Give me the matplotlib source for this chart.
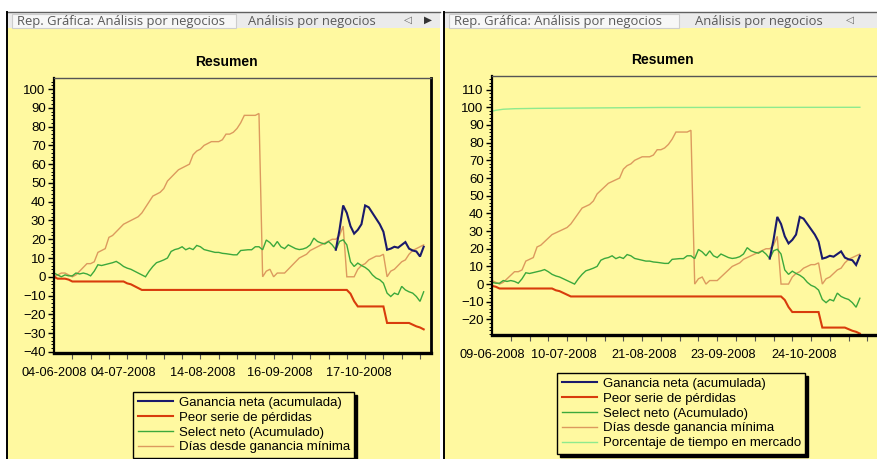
import numpy as np
import matplotlib
matplotlib.use('Agg')
import matplotlib.pyplot as plt
from matplotlib.patches import Rectangle
from matplotlib.lines import Line2D
from matplotlib.ticker import MultipleLocator

plt.rcParams['font.family'] = ['Liberation Sans', 'DejaVu Sans']

# series, one value per trade
dias = [0, 1, 2, 2, 1, 0, 1, 3, 5, 7,
        7, 8, 13, 14, 15, 21, 22, 24, 26, 28,
        29, 30, 31, 32, 34, 37, 40, 43, 44, 45,
        47, 51, 53, 55, 57, 58, 59, 60, 65, 67,
        68, 70, 71, 72, 72, 72, 73, 76, 76, 77,
        79, 82, 86, 86, 86, 86, 87, 0, 3, 4,
        0, 2, 2, 2, 4, 6, 8, 10, 11, 12,
        14, 15, 16, 17, 18, 19, 20, 20, 22, 27,
        0, 0, 0, 4, 6, 7, 9, 10, 11, 11,
        12, 0, 3, 4, 6, 8, 9, 12, 14, 15,
        16, 17]

peor = [0, -1, -1, -1, -1.5, -2.5, -2.5, -2.5, -2.5, -2.5,
        -2.5, -2.5, -2.5, -2.5, -2.5, -2.5, -2.5, -2.5, -2.5, -2.5,
        -3.5, -4, -5, -6, -7, -7, -7, -7, -7, -7,
        -7, -7, -7, -7, -7, -7, -7, -7, -7, -7,
        -7, -7, -7, -7, -7, -7, -7, -7, -7, -7,
        -7, -7, -7, -7, -7, -7, -7, -7, -7, -7,
        -7, -7, -7, -7, -7, -7, -7, -7, -7, -7,
        -7, -7, -7, -7, -7, -7, -7, -7, -7, -7,
        -7, -9, -13, -15.8, -15.8, -15.8, -15.8, -15.8, -15.8, -15.8,
        -15.8, -24.6, -24.6, -24.6, -24.6, -24.6, -24.6, -24.6, -25.5, -26.4,
        -27, -28]

select = [2, 1, 0, 1, 0.5, 0.5, 2, 1.5, 2, 1.5,
          0.5, 3, 6.4, 6, 6.5, 7, 7.5, 8.2, 7, 5.5,
          4.6, 4, 3, 2, 1, 0, 3, 5.5, 7.5, 8.2,
          9, 10, 13.5, 14.5, 15, 16, 14.4, 15.3, 14.5, 16.7,
          16, 14.5, 14, 13.5, 13, 13, 12.5, 12.3, 12, 11.7,
          11.7, 14, 14.2, 14.4, 14.4, 16, 16, 14.4, 19.6, 18.2,
          16, 18.8, 16, 15, 17, 16, 15, 14.5, 14.8, 15.5,
          17, 20.6, 18.8, 18, 17.5, 18.8, 17, 14.4, 18.8, 19.7,
          17, 8, 5.5, 7.3, 6, 5, 3.5, 1, -0.7, -1.6,
          -3.4, -8.7, -10.5, -8.7, -9.5, -5.1, -7, -8, -8.7, -10.5,
          -13.1, -8]

# net gain only exists from trade 77 on
gan_start = 77
ganancia = [14.4, 25, 38, 34, 27, 23, 25, 28, 38, 37,
            34, 31, 28, 24, 14.4, 15, 16, 15.5, 17, 18.5,
            15, 14, 13.5, 10.8, 16]

# time in market, right chart only (vertices)
pct_x = [0, 1, 3, 6, 12, 25, 45, 98]
pct = [97.8, 98.3, 98.9, 99.2, 99.4, 99.6, 99.9, 100]

labels = ['Ganancia neta (acumulada)', 'Peor serie de pérdidas',
          'Select neto (Acumulado)', 'Días desde ganancia mínima',
          'Porcentaje de tiempo en mercado']
left_dates = ['04-06-2008', '04-07-2008', '14-08-2008', '16-09-2008', '17-10-2008']
right_dates = ['09-06-2008', '10-07-2008', '21-08-2008', '23-09-2008', '24-10-2008']
date_pos = [0, 19, 40.6, 61.7, 83.2]
tab_main = 'Rep. Gráfica: Análisis por negocios'
tab_other = 'Análisis por negocios'

YELLOW = '#fff9a0'
colors = ['#1a1a6b', '#d83c0c', '#3ca83c', '#dc9a5e', '#8eea8e']
widths = [1.5, 1.5, 1.0, 1.0, 1.0]

W, H = 878, 459
fig = plt.figure(figsize=(W / 100, H / 100), dpi=100)
fig.patch.set_facecolor('white')


def px_rect(x0, y0, x1, y1):
    # pixel box, origin top-left -> figure fraction
    return [x0 / W, 1 - y1 / H, (x1 - x0) / W, (y1 - y0) / H]


def box(x0, y0, x1, y1, **kw):
    l, b, w, h = px_rect(x0, y0, x1, y1)
    fig.add_artist(Rectangle((l, b), w, h, transform=fig.transFigure, zorder=-10, **kw))


def hline(x0, x1, y, **kw):
    fig.add_artist(Line2D([x0 / W, x1 / W], [1 - y / H, 1 - y / H], zorder=-5, **kw))


def vline(x, y0, y1, **kw):
    fig.add_artist(Line2D([x / W, x / W], [1 - y0 / H, 1 - y1 / H], zorder=-5, **kw))


def frame(x0, x1, sel_x1, other_x, arrows):
    box(x0, 12, x1, 28, facecolor='#ebebeb', edgecolor='none')
    box(x0, 28, x1, H, facecolor=YELLOW, edgecolor='none')
    box(x0 + 5, 14, sel_x1, 28, facecolor='#f7f7f7', edgecolor='#cdcdcd', lw=0.8)
    hline(x0, x1, 12, color='#606060', lw=1)
    vline(x0, 12, H, color='black', lw=1.4)
    fig.text((x0 + 10) / W, 1 - 21 / H, tab_main, family='Open Sans', size=9.4,
             color='#595959', va='center')
    fig.text(other_x / W, 1 - 21 / H, tab_other, family='Open Sans', size=9.4,
             color='#595959', va='center')
    for ax_, ch, c in arrows:
        fig.text(ax_ / W, 1 - 20 / H, ch, family='DejaVu Sans', size=7.5,
                 color=c, ha='center', va='center')


def chart(rect, ylim, yticks, xmax, series, dates, title_xy, leg_xy):
    ax = fig.add_axes(px_rect(*rect))
    ax.set_facecolor('none')
    handles = []
    for (x, y), c, lw, lab in series:
        h, = ax.plot(x, y, color=c, lw=lw, label=lab, solid_joinstyle='miter')
        handles.append(h)
    ax.set_xlim(0, xmax)
    ax.set_ylim(*ylim)
    ax.set_yticks(yticks)
    ax.yaxis.set_minor_locator(MultipleLocator(2))
    ax.set_xticks(date_pos, dates)
    ax.xaxis.set_minor_locator(MultipleLocator(5))
    ax.tick_params(axis='y', which='major', length=4, width=1, pad=2, labelsize=9.5)
    ax.tick_params(axis='y', which='minor', length=2, width=0.7)
    ax.tick_params(axis='x', which='major', length=0, pad=10, labelsize=9.2)
    ax.tick_params(axis='x', which='minor', length=4, width=0.8, color='#555555')
    ax.spines['top'].set_color('#555555')
    ax.spines['top'].set_linewidth(1)
    ax.spines['left'].set_linewidth(1.6)
    ax.spines['right'].set_linewidth(2)
    ax.spines['bottom'].set_linewidth(2.4)
    fig.text(title_xy[0] / W, 1 - title_xy[1] / H, 'Resumen', ha='center', va='center',
             weight='bold', size=10)
    # legend keeps the legend order, curves are drawn bottom-up
    order = handles[::-1]
    leg = fig.legend(order, [h.get_label() for h in order], loc='upper left',
                     bbox_to_anchor=(leg_xy[0] / W, 1 - leg_xy[1] / H),
                     bbox_transform=fig.transFigure, fontsize=9.5, frameon=True,
                     fancybox=False, edgecolor='black', facecolor=YELLOW, framealpha=1,
                     shadow={'color': 'black', 'alpha': 1, 'ox': 2.2, 'oy': -2.2},
                     borderaxespad=0, borderpad=0.35, labelspacing=0.2,
                     handlelength=2.7, handletextpad=0.4)
    leg.get_frame().set_linewidth(1)
    return ax


frame(7, 440, 236, 248, [(408, '\u25c1', '#666666'), (428, '\u25b6', '#333333')])
frame(444, 878, 679, 695, [(850, '\u25c1', '#666666')])

n = len(dias)
xs = list(range(n))
gx = list(range(gan_start, gan_start + len(ganancia)))

left_series = [(xs, dias), (xs, select), (xs, peor), (gx, ganancia)]
chart((54, 78, 431, 353), (-40.6, 105.9), range(-40, 101, 10), 103,
      list(zip(left_series, colors[3::-1], widths[3::-1], labels[3::-1])),
      left_dates, (226, 62), (133, 392))

# the second run starts three trades later
off = 3
rx = list(range(n - off))
rgx = [g - off for g in gx]
right_series = [(pct_x, pct), (rx, dias[off:]), (rx, select[off:]),
                (rx, peor[off:]), (rgx, ganancia)]
chart((492, 76, 882, 335), (-28.8, 117.7), range(-20, 111, 10), 103.9,
      list(zip(right_series, colors[::-1], widths[::-1], labels[::-1])),
      right_dates, (662, 60), (557, 373))

fig.savefig('out.png', dpi=100, facecolor='white')
